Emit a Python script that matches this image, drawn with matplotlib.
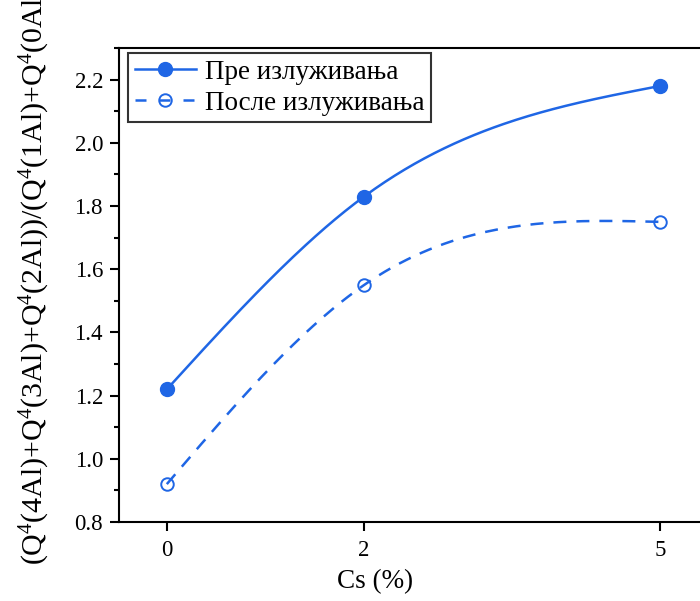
import numpy as np
import matplotlib
matplotlib.use('Agg')
import matplotlib.pyplot as plt
from matplotlib.ticker import MultipleLocator

plt.rcParams['font.family'] = ['Liberation Serif', 'DejaVu Serif']
plt.rcParams['mathtext.fontset'] = 'custom'
plt.rcParams['mathtext.rm'] = 'Liberation Serif'
plt.rcParams['mathtext.it'] = 'Liberation Serif'

# data
cs = [0, 2, 5]
before = [1.22, 1.83, 2.18]
after = [0.92, 1.55, 1.75]
labels = ['Пре излуживања', 'После излуживања']
xticks = [0, 2, 5]
yticks = [0.8, 1.0, 1.2, 1.4, 1.6, 1.8, 2.0, 2.2]

blue = '#1f66e5'


# natural cubic spline through the points (the smooth connecting line)
def spline(x, y, n=200):
    x = np.asarray(x, float)
    y = np.asarray(y, float)
    h = np.diff(x)
    k = len(x)
    A = np.zeros((k, k))
    r = np.zeros(k)
    A[0, 0] = A[-1, -1] = 1
    for i in range(1, k - 1):
        A[i, i - 1] = h[i - 1]
        A[i, i] = 2 * (h[i - 1] + h[i])
        A[i, i + 1] = h[i]
        r[i] = 6 * ((y[i + 1] - y[i]) / h[i] - (y[i] - y[i - 1]) / h[i - 1])
    M = np.linalg.solve(A, r)
    xs = np.linspace(x[0], x[-1], n)
    idx = np.clip(np.searchsorted(x, xs) - 1, 0, k - 2)
    x0, x1, hh = x[idx], x[idx + 1], h[idx]
    ys = (M[idx] * (x1 - xs) ** 3 + M[idx + 1] * (xs - x0) ** 3) / (6 * hh) \
        + (y[idx] / hh - M[idx] * hh / 6) * (x1 - xs) \
        + (y[idx + 1] / hh - M[idx + 1] * hh / 6) * (xs - x0)
    return xs, ys


fig = plt.figure(figsize=(7, 6.01), dpi=100)
ax = fig.add_axes([0.170, 0.1314, 0.843, 0.7886])

sx, sy = spline(cs, before)
ax.plot(sx, sy, color=blue, lw=1.8)
ax.plot(cs, before, 'o', color=blue, ms=10)
sx, sy = spline(cs, after)
ax.plot(sx, sy, color=blue, lw=1.8, ls=(0, (5.2, 4)))
ax.plot(cs, after, 'o', color=blue, ms=9, mfc='none', mew=1.4)

# legend handles: line + marker together
h1, = ax.plot([], [], '-o', color=blue, lw=1.8, ms=10)
h2, = ax.plot([], [], 'o', color=blue, lw=1.8, ls=(0, (4.4, 5.2)), ms=9, mfc='none', mew=1.4)
leg = ax.legend([h1, h2], labels, loc='upper left', bbox_to_anchor=(0.015, 0.99),
                fontsize=19.5, frameon=True, fancybox=False, edgecolor='black',
                handlelength=2.26, handletextpad=0.33, borderpad=0.25, labelspacing=0.22,
                borderaxespad=0)
leg.get_frame().set_linewidth(1.5)

ax.set_xlim(-0.485, 5.5)
ax.set_ylim(0.8, 2.3)
ax.set_xticks(xticks)
ax.set_xticklabels([str(t) for t in xticks])
ax.set_yticks(yticks)
ax.set_yticklabels(['%.1f' % t for t in yticks])
ax.yaxis.set_minor_locator(MultipleLocator(0.1))

ax.tick_params(axis='both', which='major', direction='out', length=6.5, width=1.5, labelsize=16.5)
ax.tick_params(axis='y', which='major', pad=5)
ax.tick_params(axis='y', which='minor', direction='out', length=3.3, width=1.5)
ax.tick_params(axis='x', which='major', pad=6.5)
for s in ax.spines.values():
    s.set_linewidth(1.5)

ax.set_xlabel('Cs (%)', fontsize=19.5)
ax.xaxis.set_label_coords(0.434, -0.1)
ax.set_ylabel(r'(Q$^4$(4Al)+Q$^4$(3Al)+Q$^4$(2Al))/(Q$^4$(1Al)+Q$^4$(0Al))', fontsize=21.5)
ax.yaxis.set_label_coords(-0.113, 0.53)

fig.savefig('out.png', dpi=100)
